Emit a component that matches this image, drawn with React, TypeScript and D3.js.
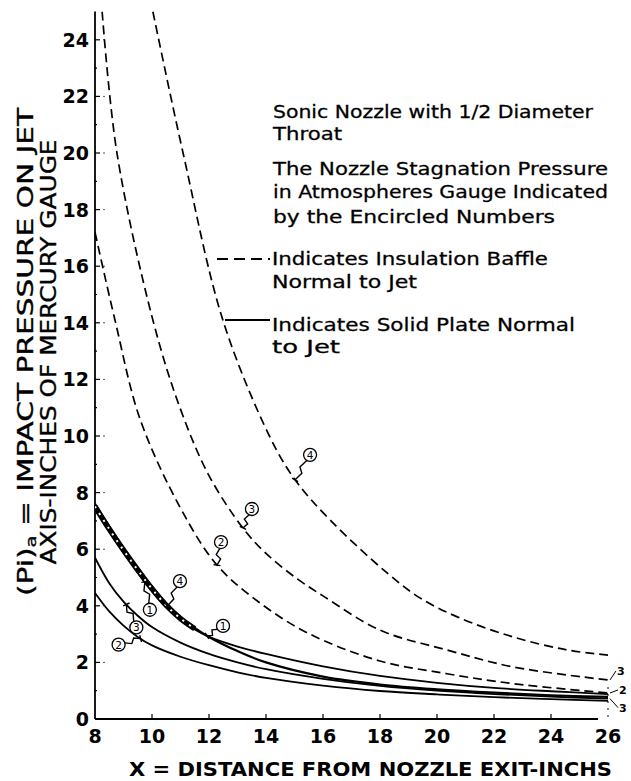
import React from "react";
import * as d3 from "d3";

// ---------- data ----------
const xTickValues = [8, 10, 12, 14, 16, 18, 20, 22, 24, 26];
const yTickValues = [0, 2, 4, 6, 8, 10, 12, 14, 16, 18, 20, 22, 24];

// dashed: insulation baffle normal to jet
const baffle4X = [10.03, 11.09, 12.5, 14.14, 15.02, 16.25, 18.25, 19.4, 20.8, 22.67, 24.56, 26];
const baffle4Y = [25, 20.0, 14.05, 9.96, 8.45, 7.03, 5.16, 4.28, 3.57, 2.9, 2.44, 2.26];
const baffle3X = [8.25, 8.77, 10.03, 10.98, 12, 13.19, 14, 15.1, 16, 18, 20.35, 22.67, 26];
const baffle3Y = [25, 20.0, 14.1, 11.0, 8.6, 6.75, 5.85, 4.95, 4.35, 3.14, 2.44, 1.84, 1.38];
const baffle2X = [8, 8.7, 9.58, 10.98, 12.28, 13.79, 15.5, 18, 20.35, 22.67, 26];
const baffle2Y = [17.2, 14.1, 10.6, 7.49, 5.44, 4.1, 3.02, 2.05, 1.6, 1.25, 0.92];

// solid: solid plate normal to jet
const plate4X = [8, 8.5, 9, 9.5, 10, 10.5, 11, 11.5, 12, 13, 14, 16, 18, 20, 22, 24, 26];
const plate4Y = [7.6, 6.8, 6.05, 5.35, 4.68, 4.08, 3.6, 3.22, 2.9, 2.4, 2.0, 1.5, 1.22, 1.05, 0.93, 0.84, 0.78];
const plate1X = [8, 8.5, 9, 9.5, 10, 10.5, 11, 11.5, 12, 13, 14, 16, 18, 20, 22, 24, 26];
const plate1Y = [7.42, 6.62, 5.88, 5.18, 4.52, 3.95, 3.5, 3.16, 2.9, 2.56, 2.3, 1.86, 1.52, 1.28, 1.1, 0.98, 0.88];
const plate3X = [8, 8.5, 9, 9.5, 10, 11, 12, 13, 14, 16, 18, 20, 22, 24, 26];
const plate3Y = [5.7, 4.8, 4.15, 3.65, 3.25, 2.7, 2.3, 2.0, 1.76, 1.42, 1.17, 1.0, 0.88, 0.79, 0.72];
const plate2X = [8, 8.5, 9, 9.5, 10, 11, 12, 13, 14, 16, 18, 20, 22, 24, 26];
const plate2Y = [4.45, 3.8, 3.3, 2.9, 2.6, 2.2, 1.9, 1.65, 1.45, 1.18, 0.99, 0.87, 0.77, 0.7, 0.64];

const noteLines = [
  "Sonic Nozzle with 1/2 Diameter",
  "Throat",
  "The Nozzle Stagnation Pressure",
  "in Atmospheres Gauge Indicated",
  "by the Encircled Numbers",
];
const legendLines = [
  ["Indicates Insulation Baffle", "Normal to Jet"],
  ["Indicates Solid Plate Normal", "to Jet"],
];

// ---------- layout ----------
const W = 631;
const H = 781;
const x = d3.scaleLinear().domain([8, 26]).range([95, 608]);
const y = d3.scaleLinear().domain([0, 25]).range([719, 11.5]);

type Series = { key: string; xs: number[]; ys: number[]; dashed: boolean };
const series: Series[] = [
  { key: "b4", xs: baffle4X, ys: baffle4Y, dashed: true },
  { key: "b3", xs: baffle3X, ys: baffle3Y, dashed: true },
  { key: "b2", xs: baffle2X, ys: baffle2Y, dashed: true },
  { key: "p4", xs: plate4X, ys: plate4Y, dashed: false },
  { key: "p1", xs: plate1X, ys: plate1Y, dashed: false },
  { key: "p3", xs: plate3X, ys: plate3Y, dashed: false },
  { key: "p2", xs: plate2X, ys: plate2Y, dashed: false },
];
const byKey: Record<string, Series> = Object.fromEntries(series.map((s) => [s.key, s]));

const interp = (s: Series, xv: number) => {
  for (let i = 0; i < s.xs.length - 1; i++) {
    if (xv >= s.xs[i] && xv <= s.xs[i + 1]) {
      const t = (xv - s.xs[i]) / (s.xs[i + 1] - s.xs[i]);
      return s.ys[i] + t * (s.ys[i + 1] - s.ys[i]);
    }
  }
  return s.ys[s.ys.length - 1];
};

// circled labels: series, number, data x of target, circle offset (px)
const circleLabels = [
  { key: "b4", n: "4", at: 15.02, dx: 15, dy: -25 },
  { key: "b3", n: "3", at: 13.19, dx: 9, dy: -19 },
  { key: "b2", n: "2", at: 12.28, dx: 4, dy: -23 },
  { key: "p4", n: "4", at: 10.56, dx: 12, dy: -24 },
  { key: "p1", n: "1", at: 9.75, dx: 5, dy: 28 },
  { key: "p3", n: "3", at: 9.1, dx: 10, dy: 23 },
  { key: "p2", n: "2", at: 9.6, dx: -22, dy: 6 },
  { key: "p1", n: "1", at: 11.93, dx: 16, dy: -10 },
];
const endLabels = [
  { key: "b3", n: "3", dx: 11, dy: -9 },
  { key: "b2", n: "2", dx: 13, dy: -3 },
  { key: "p3", n: "3", dx: 13, dy: 9 },
];

const line = d3
  .line<[number, number]>()
  .x((d) => x(d[0]))
  .y((d) => y(d[1]))
  .curve(d3.curveCatmullRom.alpha(0.5));

const pts = (s: Series, maxX = 99) =>
  s.xs.map((v, i) => [v, s.ys[i]] as [number, number]).filter((d) => d[0] <= maxX);
const pathOf = (s: Series, maxX = 99) => line(pts(s, maxX)) || "";

const FONT = "'DejaVu Sans', 'Liberation Sans', sans-serif";

function Leader({ cx, cy, tx, ty, r }: { cx: number; cy: number; tx: number; ty: number; r: number }) {
  const dx = tx - cx;
  const dy = ty - cy;
  const len = Math.hypot(dx, dy) || 1;
  const ux = dx / len;
  const uy = dy / len;
  const px = -uy;
  const py = ux;
  const sx = cx + ux * r;
  const sy = cy + uy * r;
  const L = len - r;
  const p = (t: number, o: number) => [sx + ux * L * t + px * o, sy + uy * L * t + py * o];
  const a = p(0.4, 2.5);
  const b = p(0.6, -2.5);
  const d = `M${sx},${sy}L${a[0]},${a[1]}L${b[0]},${b[1]}L${tx},${ty}M${tx + px * 3.5},${ty + py * 3.5}L${tx - px * 3.5},${ty - py * 3.5}`;
  return <path d={d} fill="none" stroke="#000" strokeWidth={1.4} />;
}

export default function App() {
  const p4 = byKey["p4"];
  const p1 = byKey["p1"];
  // mid line of the heavy band where curves 4 and 1 run together
  const bandPts = pts(p4, 11.75).map((d) => [d[0], (d[1] + interp(p1, d[0])) / 2] as [number, number]);
  const bandPath = line(bandPts) || "";
  const noteProps = { fontFamily: FONT, fontSize: 18.5, stroke: "#000", strokeWidth: 0.3, lengthAdjust: "spacingAndGlyphs" };
  return (
    <svg
      width={W}
      height={H}
      viewBox={`0 0 ${W} ${H}`}
      style={{ position: "absolute", left: 0, top: 0, background: "#fff" }}
    >
      <rect x={0} y={0} width={W} height={H} fill="#fff" />
      <defs>
        <clipPath id="plot">
          <rect x={x(8)} y={y(25)} width={x(26) - x(8) + 2} height={y(0) - y(25)} />
        </clipPath>
      </defs>

      {/* axes */}
      <line x1={x(8)} x2={x(8)} y1={y(25)} y2={y(0)} stroke="#000" strokeWidth={1.8} />
      <line x1={x(8)} x2={x(25.65)} y1={y(0)} y2={y(0)} stroke="#000" strokeWidth={1.8} />
      {d3.range(1, 25).map((v) => (
        <g key={"yt" + v}>
          <line x1={x(8)} x2={x(8) + (v % 2 === 0 ? 5 : 2)} y1={y(v)} y2={y(v)} stroke="#000" strokeWidth={1.2} />
          {v % 2 === 0 && <circle cx={x(8) + 9} cy={y(v)} r={0.7} fill="#000" />}
        </g>
      ))}
      {xTickValues.slice(1, -1).map((v) => (
        <line key={"xt" + v} x1={x(v)} x2={x(v)} y1={y(0)} y2={y(0) - 5} stroke="#000" strokeWidth={1.2} />
      ))}
      <line x1={x(26)} x2={x(26)} y1={y(0) - 2} y2={y(0) - 36} stroke="#000" strokeWidth={1} strokeDasharray="2 5" />

      {yTickValues.map((v) => (
        <text key={"yl" + v} x={89} y={y(v) + 7} textAnchor="end" fontFamily={FONT} fontWeight="bold" fontSize={19}>
          {v}
        </text>
      ))}
      {xTickValues.map((v) => (
        <text key={"xl" + v} x={x(v)} y={743} textAnchor="middle" fontFamily={FONT} fontWeight="bold" fontSize={19}>
          {v}
        </text>
      ))}
      <text x={129} y={776} fontFamily={FONT} fontWeight="bold" fontSize={20} textLength={483} lengthAdjust="spacingAndGlyphs">
        X = DISTANCE FROM NOZZLE EXIT-INCHS
      </text>
      <text
        transform="translate(33,352) rotate(-90)"
        textAnchor="middle"
        fontFamily={FONT}
        fontSize={21}
        stroke="#000"
        strokeWidth={0.35}
        textLength={488}
        lengthAdjust="spacingAndGlyphs"
      >
        (Pi)<tspan fontSize={14} dy={3}>a</tspan>
        <tspan dy={-3}> = IMPACT PRESSURE ON JET</tspan>
      </text>
      <text
        transform="translate(56,352) rotate(-90)"
        textAnchor="middle"
        fontFamily={FONT}
        fontSize={21}
        stroke="#000"
        strokeWidth={0.35}
        textLength={425}
        lengthAdjust="spacingAndGlyphs"
      >
        AXIS-INCHES OF MERCURY GAUGE
      </text>

      {/* curves */}
      <g clipPath="url(#plot)">
        {series.map((s) => (
          <path
            key={s.key}
            d={pathOf(s)}
            fill="none"
            stroke="#000"
            strokeWidth={s.dashed ? 1.7 : s.key === "p4" ? 2.2 : 1.8}
            strokeDasharray={s.dashed ? "9 5" : undefined}
          />
        ))}
        {/* heavy band: curves 4 and 1 together, with white dots between */}
        <path d={bandPath} fill="none" stroke="#000" strokeWidth={5.5} />
        <path d={bandPath} fill="none" stroke="#fff" strokeWidth={2} strokeDasharray="2 6" />
      </g>

      {/* circled labels */}
      {circleLabels.map((c, i) => {
        const s = byKey[c.key];
        const tx = x(c.at);
        const ty = y(interp(s, c.at));
        const cx = tx + c.dx;
        const cy = ty + c.dy;
        const r = 6.5;
        return (
          <g key={"cl" + i}>
            <Leader cx={cx} cy={cy} tx={tx} ty={ty} r={r} />
            <circle cx={cx} cy={cy} r={r} fill="#fff" stroke="#000" strokeWidth={1.3} />
            <text x={cx} y={cy + 4} textAnchor="middle" fontFamily={FONT} fontSize={10.5}>
              {c.n}
            </text>
          </g>
        );
      })}
      {endLabels.map((e, i) => {
        const s = byKey[e.key];
        const ex = x(26) + 2;
        const ey = y(interp(s, 26));
        return (
          <g key={"el" + i}>
            <line x1={ex} y1={ey} x2={ex + e.dx - 5} y2={ey + e.dy} stroke="#000" strokeWidth={1} />
            <text x={ex + e.dx - 4} y={ey + e.dy + 4} fontFamily={FONT} fontWeight="bold" fontSize={11}>
              {e.n}
            </text>
          </g>
        );
      })}

      {/* notes */}
      <g>
        <text x={273} y={118} textLength={320} {...noteProps}>{noteLines[0]}</text>
        <text x={273} y={140} textLength={69} {...noteProps}>{noteLines[1]}</text>
        <text x={273} y={175} textLength={335} {...noteProps}>{noteLines[2]}</text>
        <text x={273} y={198} textLength={335} {...noteProps}>{noteLines[3]}</text>
        <text x={273} y={223} textLength={282} {...noteProps}>{noteLines[4]}</text>
        <line x1={217} x2={270} y1={259} y2={259} stroke="#000" strokeWidth={1.8} strokeDasharray="11 6" />
        <text x={272} y={265} textLength={276} {...noteProps}>{legendLines[0][0]}</text>
        <text x={272} y={288} textLength={145} {...noteProps}>{legendLines[0][1]}</text>
        <line x1={225} x2={270} y1={320} y2={320} stroke="#000" strokeWidth={1.8} />
        <text x={272} y={331} textLength={303} {...noteProps}>{legendLines[1][0]}</text>
        <text x={272} y={353} textLength={68} {...noteProps}>{legendLines[1][1]}</text>
      </g>
    </svg>
  );
}
